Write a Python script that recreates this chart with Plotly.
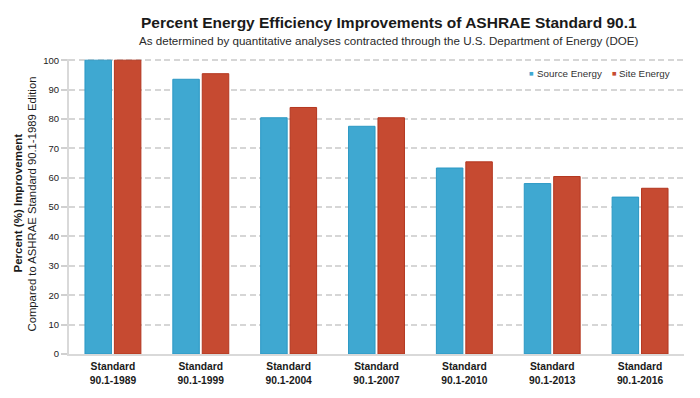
import plotly.graph_objects as go

categories = ["Standard<br>90.1-1989", "Standard<br>90.1-1999", "Standard<br>90.1-2004",
              "Standard<br>90.1-2007", "Standard<br>90.1-2010", "Standard<br>90.1-2013",
              "Standard<br>90.1-2016"]
source_energy = [100, 93.5, 80.4, 77.5, 63.3, 58.0, 53.4]
site_energy = [100, 95.4, 83.9, 80.4, 65.4, 60.4, 56.4]
y_ticks = [0, 10, 20, 30, 40, 50, 60, 70, 80, 90, 100]

BLUE = "#3fa8d1"
BLUE_EDGE = "#2b98c4"
RED = "#c64a31"
RED_EDGE = "#b3361f"
FONT = "Liberation Sans, Arial, sans-serif"

fig = go.Figure()
fig.add_trace(go.Bar(x=categories, y=source_energy, name="Source Energy",
                     marker=dict(color=BLUE, line=dict(color=BLUE_EDGE, width=1)),
                     showlegend=False))
fig.add_trace(go.Bar(x=categories, y=site_energy, name="Site Energy",
                     marker=dict(color=RED, line=dict(color=RED_EDGE, width=1)),
                     showlegend=False))

W, H = 700, 398
L, R, T, B = 69, 16, 59, 41
pw, ph = W - L - R, H - T - B

def px(x):
    return (x - L) / pw

def py(y):
    return 1 - (y - T) / ph

def note(text, x, y, size, color="#1a1a1a", anchor="center", angle=0):
    return dict(text=text, x=px(x), y=py(y), xref="paper", yref="paper", showarrow=False,
                xanchor=anchor, yanchor="middle", textangle=angle,
                font=dict(size=size, color=color, family=FONT))

annotations = [
    note("<b>Percent Energy Efficiency Improvements of ASHRAE Standard 90.1</b>", 389, 22, 15.5),
    note("As determined by quantitative analyses contracted through the U.S. Department of Energy (DOE)",
         389, 40, 11.6, "#2a2a2a"),
    note("<b>Percent (%) Improvement</b>", 18, 205, 11.5, angle=-90),
    note("Compared to ASHRAE Standard 90.1-1989 Edition", 32, 206, 11.3, angle=-90),
    # legend
    note("■", 531.5, 73.5, 7.5, BLUE),
    note("Source Energy", 534.5, 74, 9.8, "#333333", anchor="left"),
    note("■", 614.5, 73.5, 7.5, RED),
    note("Site Energy", 616.5, 74, 9.8, "#333333", anchor="left"),
]

fig.update_layout(
    width=W, height=H,
    margin=dict(l=L, r=R, t=T, b=B, pad=0),
    paper_bgcolor="white", plot_bgcolor="white",
    barmode="group", bargap=0.33, bargroupgap=0.1,
    font=dict(family=FONT, color="#222222"),
    annotations=annotations,
    showlegend=False,
)
fig.update_xaxes(showline=True, linecolor="#d9d9d9", linewidth=2, ticks="",
                 tickfont=dict(size=10.3, color="#1a1a1a", family=FONT),
                 tickprefix="<b>", ticksuffix="</b>", ticklabelstandoff=2,
                 showgrid=False, fixedrange=True)
fig.update_yaxes(range=[0, 100.4], tickvals=y_ticks, showline=True, linecolor="#d9d9d9", linewidth=2,
                 ticks="outside", ticklen=6, tickcolor="#d0d0d0", tickwidth=1.5,
                 showgrid=True, gridcolor="#d6d6d6", gridwidth=1.5, griddash="6px,3.5px",
                 tickfont=dict(size=9.5, color="#222222"), zeroline=False)

fig.write_html("out.html", config={"displayModeBar": False},
               post_script="document.body.style.margin='0';document.body.style.overflow='hidden';")
